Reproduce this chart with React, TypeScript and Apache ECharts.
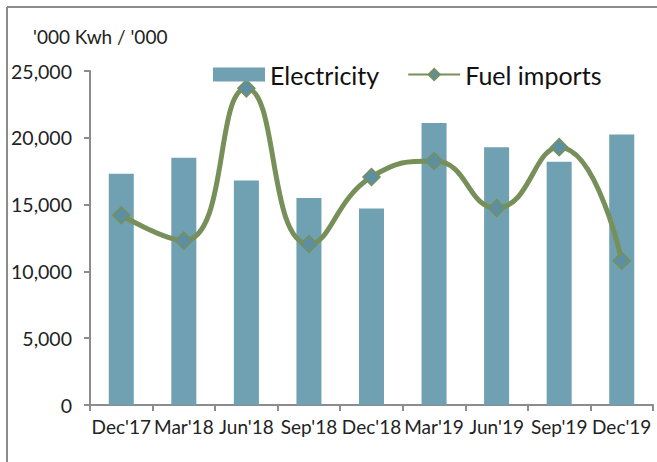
import React, { useEffect, useRef } from "react";
import * as echarts from "echarts";

const categories = ["Dec'17", "Mar'18", "Jun'18", "Sep'18", "Dec'18", "Mar'19", "Jun'19", "Sep'19", "Dec'19"];
const electricity = [17300, 18500, 16800, 15500, 14700, 21100, 19300, 18200, 20250];
const fuelImports = [14200, 12300, 23700, 12050, 17070, 18260, 14750, 19300, 10800];
const yTicks = [0, 5000, 10000, 15000, 20000, 25000];

const FONT = "Lato, 'Open Sans', sans-serif";

export default function App() {
  const ref = useRef<HTMLDivElement>(null);
  useEffect(() => {
    if (!ref.current) return;
    const chart = echarts.init(ref.current, null, { renderer: "svg" });
    chart.setOption({
      animation: false,
      backgroundColor: "#fff",
      graphic: [
        {
          type: "line",
          shape: { x1: 7, y1: 7, x2: 657, y2: 7 },
          style: { stroke: "#8c8c8c", lineWidth: 2 },
          silent: true,
        },
        {
          type: "line",
          shape: { x1: 7, y1: 7, x2: 7, y2: 462 },
          style: { stroke: "#8c8c8c", lineWidth: 2 },
          silent: true,
        },
        {
          type: "text",
          left: 33,
          top: 27,
          style: { text: "'000 Kwh / '000", font: `19px ${FONT}`, fill: "#222" },
        },
      ],
      legend: {
        top: 57,
        left: 208,
        itemWidth: 52,
        itemHeight: 14,
        itemGap: 28,
        textStyle: { fontFamily: FONT, fontSize: 25, color: "#111" },
        data: [
          { name: "Electricity", icon: "rect" },
          { name: "Fuel imports" },
        ],
      },
      grid: { left: 90, right: 4, top: 71, bottom: 57, containLabel: false },
      xAxis: {
        type: "category",
        data: categories,
        axisLine: { lineStyle: { color: "#8c8c8c", width: 2 } },
        axisTick: { show: true, length: 6, lineStyle: { color: "#8c8c8c", width: 2 } },
        axisLabel: { fontFamily: FONT, fontSize: 19, color: "#222", margin: 12, interval: 0 },
      },
      yAxis: {
        type: "value",
        min: 0,
        max: yTicks[yTicks.length - 1],
        interval: yTicks[1] - yTicks[0],
        splitLine: { show: false },
        axisLine: { show: true, lineStyle: { color: "#8c8c8c", width: 2 } },
        axisTick: { show: true, length: 6, lineStyle: { color: "#8c8c8c", width: 2 } },
        axisLabel: {
          fontFamily: FONT,
          fontSize: 19.5,
          color: "#222",
          margin: 18,
          formatter: (v: number) => v.toLocaleString("en-US"),
        },
      },
      series: [
        {
          name: "Electricity",
          type: "bar",
          data: electricity,
          barWidth: "40%",
          itemStyle: { color: "#6fa1b2" },
        },
        {
          name: "Fuel imports",
          type: "line",
          data: fuelImports,
          smooth: 0.5,
          symbol: "diamond",
          symbolSize: 17,
          lineStyle: { color: "#77905a", width: 5 },
          itemStyle: { color: "#5e8fa0", borderColor: "#77905a", borderWidth: 1.5 },
        },
      ],
    });
    return () => chart.dispose();
  }, []);
  return <div ref={ref} style={{ position: "fixed", left: 0, top: 0, width: 657, height: 462 }} />;
}
